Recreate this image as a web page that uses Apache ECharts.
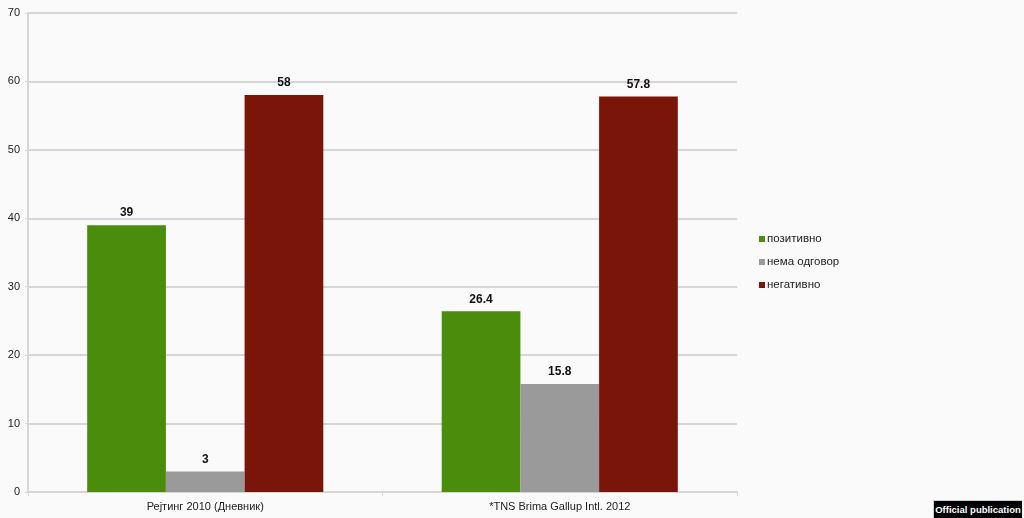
<!DOCTYPE html>
<html><head><meta charset="utf-8">
<script src="https://cdn.jsdelivr.net/npm/echarts@6/dist/echarts.min.js"></script>
<style>html,body{margin:0;padding:0;background:#fafafa;}#c{width:1024px;height:518px;}
#badge{position:absolute;left:933px;top:500px;width:88px;height:18px;background:#000;color:#fff;font:bold 9.5px "Liberation Sans",Arial,sans-serif;line-height:18px;text-align:center;white-space:nowrap;overflow:hidden;border-left:1px solid #ccc;border-top:1px solid #ccc;}</style>
</head><body><div id="c"></div><div id="badge">Official publication</div>
<script>
const categories = ['Рејтинг 2010 (Дневник)', '*TNS Brima Gallup Intl. 2012'];
const seriesNames = ['позитивно', 'нема одговор', 'негативно'];
const positive = [39, 26.4];
const noAnswer = [3, 15.8];
const negative = [58, 57.8];
const yTicks = [0, 10, 20, 30, 40, 50, 60, 70];
const colors = ['#4a8c0b', '#9a9a9a', '#7a1509'];
const values = [positive, noAnswer, negative];
const chart = echarts.init(document.getElementById('c'));
chart.setOption({
  backgroundColor: '#fafafa',
  animation: false,
  textStyle: {fontFamily: 'Liberation Sans, Arial, sans-serif'},
  grid: {left: 28, right: 287, top: 13, bottom: 26, containLabel: false},
  legend: {
    orient: 'vertical', left: 754, top: 228, itemWidth: 6, itemHeight: 6, itemGap: 11,
    icon: 'rect',
    textStyle: {fontSize: 11.5, color: '#222', padding: [0,0,0,-3]},
    data: seriesNames
  },
  xAxis: {
    type: 'category', data: categories,
    axisLine: {show: true, lineStyle: {color: '#d6d6d6', width: 2}},
    axisTick: {show: true, alignWithLabel: false, length: 4, lineStyle: {color: '#d6d6d6'}},
    axisLabel: {fontSize: 11, color: '#222', margin: 9}
  },
  yAxis: {
    type: 'value', min: yTicks[0], max: yTicks[yTicks.length-1], interval: 10,
    axisLine: {show: true, lineStyle: {color: '#d6d6d6', width: 2}},
    axisTick: {show: true, length: 3, lineStyle: {color: '#d6d6d6'}},
    splitLine: {lineStyle: {color: '#d6d6d6', width: 2}},
    axisLabel: {fontSize: 11, color: '#222', margin: 8}
  },
  series: seriesNames.map((n, i) => ({
    name: n, type: 'bar', data: values[i],
    barGap: '0%', barCategoryGap: '33.4%',
    itemStyle: {color: colors[i]},
    label: {show: true, position: 'top', fontWeight: 'bold', fontSize: 12, color: '#111', distance: 6}
  }))
});
</script></body></html>
